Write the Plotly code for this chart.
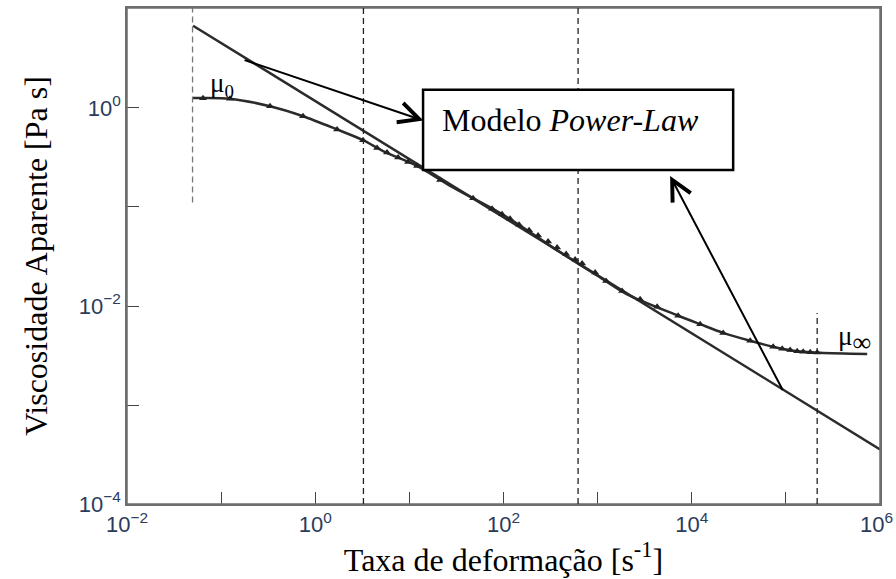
import plotly.graph_objects as go

# Apparent viscosity curve (shear-thinning fluid) read along the measured trend
shear_rate = [0.0503, 0.1243, 0.331, 0.742, 1.705, 3.22, 5.25, 12.07, 27.1, 99.0,
              399.5, 1063, 2058, 6998, 12285, 21570, 41750, 73300, 119600, 231400, 731100]
viscosity = [1.260, 1.243, 1.040, 0.825, 0.607, 0.4735, 0.3672, 0.2595, 0.1633, 0.0835,
             0.0349, 0.01943, 0.01311, 0.00806, 0.00655, 0.00535, 0.00445, 0.00387,
             0.00353, 0.00337, 0.00327]

# Measured points (triangles) sitting on the curve
meas_rate = [0.0642, 0.1243, 0.331, 0.742, 1.705, 3.22, 4.54, 5.79, 7.59, 9.69, 12.07,
             21.2, 47.5, 75.6, 96.6, 117.5, 146.5, 187.1, 233.2, 297.8, 371.2, 462.8,
             576.7, 684.4, 940.6, 1231, 1821, 2829, 4289, 7170, 12285, 21570, 41750,
             73300, 91350, 111100, 131900, 152700, 181300, 215100]
meas_visc = [1.257, 1.243, 1.040, 0.825, 0.607, 0.4735, 0.3936, 0.3546, 0.3158, 0.2847,
             0.2595, 0.1877, 0.1224, 0.0959, 0.0845, 0.0761, 0.0662, 0.0583, 0.0514,
             0.0447, 0.0389, 0.0335, 0.02946, 0.02686, 0.02182, 0.01791, 0.01421,
             0.01168, 0.00982, 0.00797, 0.00655, 0.00535, 0.00445, 0.00387, 0.00371,
             0.00359, 0.00350, 0.00346, 0.00342, 0.00339]

# Power-law model straight line (end points)
pl_rate = [0.0503, 1.0e6]
pl_visc = [6.78, 3.56e-4]

# Region boundaries (shear rates of the dashed verticals)
bound_rate = [0.0497, 3.25, 620, 2.15e5]

# Decade ticks; the last label (10^6) sits on the right edge and is added separately
x_tickvals = [1e-2, 1e-1, 1e0, 1e1, 1e2, 1e3, 1e4, 1e5, 1e6]
x_ticktext = ["10<sup>\u22122</sup>", "", "10<sup>0</sup>", "", "10<sup>2</sup>", "",
              "10<sup>4</sup>", "", ""]
x_edge_label = "10<sup>6</sup>"
y_tickvals = [1e-4, 1e-3, 1e-2, 1e-1, 1e0]
y_ticktext = ["10<sup>\u22124</sup>", "", "10<sup>\u22122</sup>", "", "10<sup>0</sup>"]

SERIF = "Liberation Serif"
SANS = "Liberation Sans"
TICKCOL = "#2a3b5c"
CURVE = "#2b2b2b"
FRAME = "#6e6e6e"
TICKSIZE = 22

fig = go.Figure()

fig.add_trace(go.Scatter(x=pl_rate, y=pl_visc, mode="lines",
                         line=dict(color=CURVE, width=2.5), showlegend=False,
                         hoverinfo="skip"))
fig.add_trace(go.Scatter(x=shear_rate, y=viscosity, mode="lines",
                         line=dict(color=CURVE, width=2.5, shape="spline", smoothing=0.8),
                         showlegend=False, hoverinfo="skip"))
fig.add_trace(go.Scatter(x=meas_rate, y=meas_visc, mode="markers",
                         marker=dict(symbol="triangle-up", size=7, color="#222"),
                         showlegend=False))

# Plot frame
fig.add_shape(type="rect", xref="paper", yref="paper", x0=0, x1=1, y0=0, y1=1,
              line=dict(color=FRAME, width=1.5), fillcolor="rgba(0,0,0,0)", layer="above")

# Dashed vertical boundaries
dash_spans = [(0.111, 10.3), (1e-4, 10.3), (1e-4, 10.3), (1e-4, 0.0085)]
dash_cols = ["#777777", "#222222", "#222222", "#222222"]
for xr, (lo, hi), col in zip(bound_rate, dash_spans, dash_cols):
    fig.add_shape(type="line", xref="x", yref="y", x0=xr, x1=xr, y0=lo, y1=hi,
                  line=dict(color=col, width=1.3, dash="6px,4px"), layer="above")

# Label box for the power-law model
fig.add_shape(type="rect", xref="x", yref="y", x0=13.98, x1=27540, y0=0.2366, y1=1.531,
              line=dict(color="black", width=2.5), fillcolor="white", layer="above")
fig.add_annotation(x=2.708, y=-0.12, xref="x", yref="y", showarrow=False,
                   text="Modelo <i>Power-Law</i>",
                   font=dict(family=SERIF, size=32, color="black"),
                   xanchor="center", yanchor="middle")

# Arrows pointing to the box from the power-law line
arrow_pairs = [((1.149, -0.127), (-0.767, 0.489)),
               ((3.770, -0.686), (4.975, -2.864))]
for (hx, hy), (tx, ty) in arrow_pairs:
    fig.add_annotation(x=hx, y=hy, ax=tx, ay=ty, xref="x", yref="y",
                       axref="x", ayref="y", text="", showarrow=True,
                       arrowhead=5, arrowsize=2.0, arrowwidth=2, arrowcolor="black")

fig.add_annotation(x=-1.14, y=0.23, xref="x", yref="y", showarrow=False,
                   text="\u03bc<sub>0</sub>", xanchor="left", yanchor="middle",
                   font=dict(family=SERIF, size=27, color="black"))
fig.add_annotation(x=5.53, y=-2.33, xref="x", yref="y", showarrow=False,
                   text="\u03bc<sub><span style='font-size:26px'>\u221e</span></sub>",
                   xanchor="left", yanchor="middle",
                   font=dict(family=SERIF, size=27, color="black"))

# Right-edge x tick label, nudged left so it stays inside the page
fig.add_annotation(x=6, y=0, xref="x", yref="paper", showarrow=False,
                   text=x_edge_label, xanchor="right", yanchor="top",
                   xshift=15, yshift=-3,
                   font=dict(family=SANS, size=TICKSIZE, color=TICKCOL))

axis_common = dict(showline=True, linecolor=FRAME, linewidth=1.5, mirror=True,
                   ticks="inside", ticklen=12, tickwidth=1.2, tickcolor="#444",
                   showgrid=False, zeroline=False,
                   tickfont=dict(family=SANS, size=TICKSIZE, color=TICKCOL))

fig.update_xaxes(type="log", range=[-2, 6], tickmode="array", tickvals=x_tickvals,
                 ticktext=x_ticktext,
                 title=dict(text="Taxa de deformação [s<sup>-1</sup>]",
                            font=dict(family=SERIF, size=32, color="black"), standoff=8),
                 **axis_common)
fig.update_yaxes(type="log", range=[-4, 1.01], tickmode="array", tickvals=y_tickvals,
                 ticktext=y_ticktext,
                 title=dict(text="Viscosidade Aparente [Pa s]",
                            font=dict(family=SERIF, size=32, color="black"), standoff=22),
                 **axis_common)

fig.update_layout(width=896, height=579, autosize=False,
                  margin=dict(l=127, r=16, t=6, b=75, pad=0),
                  plot_bgcolor="white", paper_bgcolor="white")

fig.write_html("out.html")
